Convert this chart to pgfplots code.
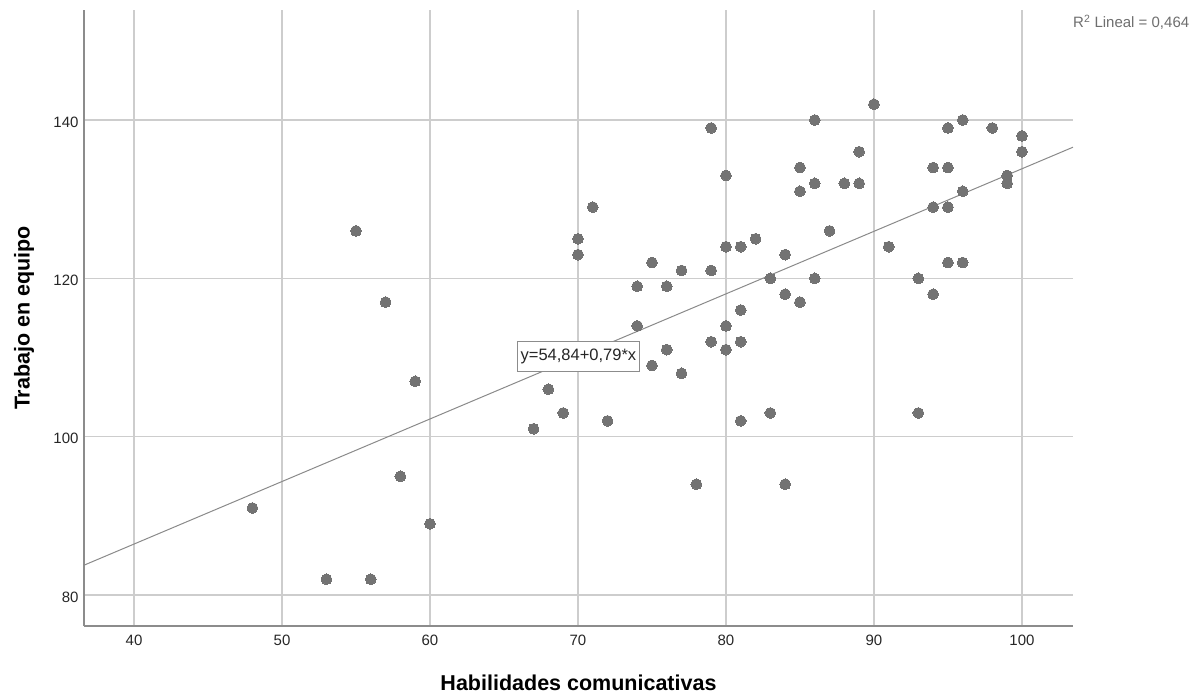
\documentclass[border=0pt]{standalone}
\usepackage{fontspec}
\setmainfont{Liberation Sans}
\usepackage{pgfplots}
\usepackage{pgfplotstable}
\pgfplotsset{compat=1.18}

\definecolor{dotgray}{HTML}{737373}
\definecolor{gridgray}{HTML}{CDCDCD}
\definecolor{axgray}{HTML}{8C8C8C}
\definecolor{fitgray}{HTML}{8A8A8A}
\definecolor{txtgray}{HTML}{6E6E6E}

% Habilidades comunicativas (x) vs Trabajo en equipo (y)
\pgfplotstableread{
x y
48 91
53 82
55 126
56 82
57 117
58 95
59 107
60 89
67 101
68 106
69 103
70 125
70 123
71 129
72 102
74 119
74 114
75 122
75 109
76 119
76 111
77 121
77 108
78 94
79 139
79 121
79 112
80 133
80 124
80 114
80 111
81 124
81 116
81 112
81 102
82 125
83 120
83 103
84 123
84 118
84 94
85 134
85 131
85 117
86 140
86 132
86 120
87 126
88 132
89 136
89 132
90 142
91 124
93 120
93 103
94 134
94 129
94 118
95 139
95 134
95 129
95 122
96 140
96 131
96 122
98 139
99 133
99 132
100 138
100 136
}\datatable

\begin{document}
\begin{tikzpicture}
\useasboundingbox (-84pt,-71pt) rectangle (1119pt,626pt);
\begin{axis}[
    at={(0,0)}, anchor=south west,
    scale only axis,
    width=989pt, height=616pt,
    xmin=36.62, xmax=103.45,
    ymin=76.09, ymax=153.9,
    xtick={40,50,...,100},
    ytick={80,100,120,140},
    axis x line*=bottom,
    axis y line*=left,
    axis line style={draw=axgray, line width=1.8pt, -},
    major tick length=0pt,
    grid=major,
    major grid style={draw=gridgray, line width=1.4pt},
    tick label style={font=\fontsize{15}{18}\selectfont, text=black!85},
    /pgf/number format/assume math mode=true,
    xticklabel style={yshift=-5pt},
    yticklabel style={yshift=-2pt, xshift=-2pt},
    xlabel={Habilidades comunicativas},
    ylabel={Trabajo en equipo},
    label style={font=\fontsize{21.5}{24}\selectfont\bfseries},
    xlabel style={at={(axis description cs:0.5,0)}, anchor=center, yshift=-57pt},
    ylabel style={at={(axis description cs:0,0.5)}, anchor=center, yshift=60pt},
    clip=true,
]
% fitted line y = 54,84 + 0,79x
\addplot[draw=fitgray, line width=1pt] coordinates {(36.62,83.77) (103.45,136.57)};

\addplot[only marks, mark=*, mark size=5.4pt,
    mark options={fill=dotgray, draw=dotgray, line width=0pt}] table[x=x, y=y] {\datatable};

\node[draw=axgray, line width=0.8pt, fill=white, inner xsep=3pt, inner ysep=0pt,
      minimum height=30pt, font=\fontsize{16.5}{19}\selectfont, text=black!85]
      at (axis cs:70.03,110.1) {y=54,84+0,79*x};
\end{axis}
\node[anchor=base west, inner sep=0pt, font=\fontsize{15}{18}\selectfont, text=txtgray]
    at (989pt,598pt) {R\textsuperscript{2} Lineal = 0,464};
\end{tikzpicture}
\end{document}
